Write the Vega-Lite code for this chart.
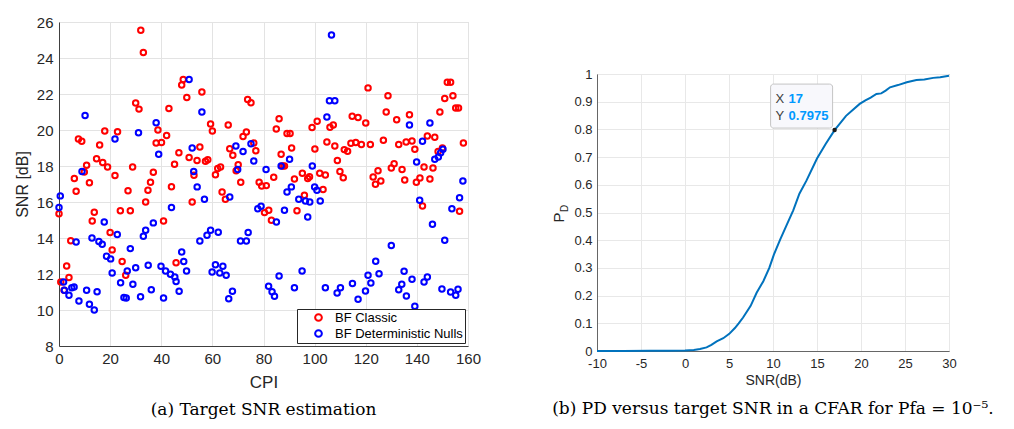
{
  "$schema": "https://vega.github.io/schema/vega-lite/v6.json",
  "background": "white",
  "padding": {"left": 13, "top": 14, "right": 5, "bottom": 5},
  "config": {
    "font": "Liberation Sans",
    "view": {"stroke": null},
    "concat": {"spacing": 69}
  },
  "resolve": {"scale": {"color": "independent"}, "legend": {"color": "independent"}},
  "datasets": {
    "scatter": [
      {"cpi": 0, "snr": 15.35, "method": "BF Classic"},
      {"cpi": 0.7, "snr": 11.56, "method": "BF Classic"},
      {"cpi": 2, "snr": 11.1, "method": "BF Classic"},
      {"cpi": 3, "snr": 12.45, "method": "BF Classic"},
      {"cpi": 3.9, "snr": 11.8, "method": "BF Classic"},
      {"cpi": 4.6, "snr": 13.85, "method": "BF Classic"},
      {"cpi": 6, "snr": 17.3, "method": "BF Classic"},
      {"cpi": 6.7, "snr": 16.6, "method": "BF Classic"},
      {"cpi": 7.6, "snr": 19.5, "method": "BF Classic"},
      {"cpi": 8.9, "snr": 19.37, "method": "BF Classic"},
      {"cpi": 9.9, "snr": 17.67, "method": "BF Classic"},
      {"cpi": 10.8, "snr": 18.04, "method": "BF Classic"},
      {"cpi": 11.9, "snr": 17.07, "method": "BF Classic"},
      {"cpi": 13, "snr": 14.95, "method": "BF Classic"},
      {"cpi": 13.8, "snr": 15.43, "method": "BF Classic"},
      {"cpi": 14.7, "snr": 18.4, "method": "BF Classic"},
      {"cpi": 15.9, "snr": 19.17, "method": "BF Classic"},
      {"cpi": 17.1, "snr": 18.2, "method": "BF Classic"},
      {"cpi": 17.9, "snr": 19.95, "method": "BF Classic"},
      {"cpi": 19, "snr": 17.95, "method": "BF Classic"},
      {"cpi": 20, "snr": 14.3, "method": "BF Classic"},
      {"cpi": 20.8, "snr": 13.34, "method": "BF Classic"},
      {"cpi": 21.9, "snr": 17.47, "method": "BF Classic"},
      {"cpi": 22.9, "snr": 19.9, "method": "BF Classic"},
      {"cpi": 24, "snr": 15.52, "method": "BF Classic"},
      {"cpi": 24.7, "snr": 12.7, "method": "BF Classic"},
      {"cpi": 26.1, "snr": 11.93, "method": "BF Classic"},
      {"cpi": 27, "snr": 16.63, "method": "BF Classic"},
      {"cpi": 27.9, "snr": 15.52, "method": "BF Classic"},
      {"cpi": 28.8, "snr": 17.95, "method": "BF Classic"},
      {"cpi": 30, "snr": 21.5, "method": "BF Classic"},
      {"cpi": 31.3, "snr": 21.16, "method": "BF Classic"},
      {"cpi": 32, "snr": 25.54, "method": "BF Classic"},
      {"cpi": 33, "snr": 24.3, "method": "BF Classic"},
      {"cpi": 33.9, "snr": 16.0, "method": "BF Classic"},
      {"cpi": 34.8, "snr": 16.65, "method": "BF Classic"},
      {"cpi": 35.8, "snr": 17.1, "method": "BF Classic"},
      {"cpi": 36.9, "snr": 17.65, "method": "BF Classic"},
      {"cpi": 38, "snr": 19.28, "method": "BF Classic"},
      {"cpi": 38.7, "snr": 20.0, "method": "BF Classic"},
      {"cpi": 40.1, "snr": 19.3, "method": "BF Classic"},
      {"cpi": 40.9, "snr": 14.95, "method": "BF Classic"},
      {"cpi": 42.1, "snr": 19.7, "method": "BF Classic"},
      {"cpi": 43, "snr": 21.2, "method": "BF Classic"},
      {"cpi": 44, "snr": 16.85, "method": "BF Classic"},
      {"cpi": 45.2, "snr": 18.1, "method": "BF Classic"},
      {"cpi": 45.8, "snr": 12.63, "method": "BF Classic"},
      {"cpi": 46.9, "snr": 18.74, "method": "BF Classic"},
      {"cpi": 48, "snr": 22.5, "method": "BF Classic"},
      {"cpi": 48.6, "snr": 22.8, "method": "BF Classic"},
      {"cpi": 50, "snr": 21.8, "method": "BF Classic"},
      {"cpi": 50.9, "snr": 18.47, "method": "BF Classic"},
      {"cpi": 52.1, "snr": 16.0, "method": "BF Classic"},
      {"cpi": 52.8, "snr": 17.48, "method": "BF Classic"},
      {"cpi": 54, "snr": 18.3, "method": "BF Classic"},
      {"cpi": 55.1, "snr": 19.06, "method": "BF Classic"},
      {"cpi": 55.9, "snr": 22.11, "method": "BF Classic"},
      {"cpi": 57.3, "snr": 18.26, "method": "BF Classic"},
      {"cpi": 58.2, "snr": 18.35, "method": "BF Classic"},
      {"cpi": 59.3, "snr": 20.33, "method": "BF Classic"},
      {"cpi": 60, "snr": 19.95, "method": "BF Classic"},
      {"cpi": 61.2, "snr": 17.52, "method": "BF Classic"},
      {"cpi": 62.1, "snr": 17.86, "method": "BF Classic"},
      {"cpi": 63.2, "snr": 17.95, "method": "BF Classic"},
      {"cpi": 63.8, "snr": 16.56, "method": "BF Classic"},
      {"cpi": 65.1, "snr": 16.15, "method": "BF Classic"},
      {"cpi": 66.2, "snr": 20.28, "method": "BF Classic"},
      {"cpi": 66.8, "snr": 18.96, "method": "BF Classic"},
      {"cpi": 68, "snr": 18.6, "method": "BF Classic"},
      {"cpi": 69.3, "snr": 17.74, "method": "BF Classic"},
      {"cpi": 70.1, "snr": 18.07, "method": "BF Classic"},
      {"cpi": 71.1, "snr": 17.1, "method": "BF Classic"},
      {"cpi": 72, "snr": 19.64, "method": "BF Classic"},
      {"cpi": 73.3, "snr": 19.89, "method": "BF Classic"},
      {"cpi": 73.8, "snr": 21.7, "method": "BF Classic"},
      {"cpi": 75.1, "snr": 21.52, "method": "BF Classic"},
      {"cpi": 76.2, "snr": 19.28, "method": "BF Classic"},
      {"cpi": 77, "snr": 18.85, "method": "BF Classic"},
      {"cpi": 78.3, "snr": 17.1, "method": "BF Classic"},
      {"cpi": 79.3, "snr": 16.89, "method": "BF Classic"},
      {"cpi": 81.1, "snr": 16.91, "method": "BF Classic"},
      {"cpi": 80.4, "snr": 15.41, "method": "BF Classic"},
      {"cpi": 82.05, "snr": 15.54, "method": "BF Classic"},
      {"cpi": 83.1, "snr": 14.98, "method": "BF Classic"},
      {"cpi": 84, "snr": 17.37, "method": "BF Classic"},
      {"cpi": 85, "snr": 20.06, "method": "BF Classic"},
      {"cpi": 86.1, "snr": 20.63, "method": "BF Classic"},
      {"cpi": 86.9, "snr": 18.65, "method": "BF Classic"},
      {"cpi": 87.4, "snr": 18.0, "method": "BF Classic"},
      {"cpi": 88.2, "snr": 18.0, "method": "BF Classic"},
      {"cpi": 89.2, "snr": 19.8, "method": "BF Classic"},
      {"cpi": 90.4, "snr": 19.8, "method": "BF Classic"},
      {"cpi": 91, "snr": 19.0, "method": "BF Classic"},
      {"cpi": 92.1, "snr": 17.28, "method": "BF Classic"},
      {"cpi": 93.1, "snr": 15.52, "method": "BF Classic"},
      {"cpi": 95.2, "snr": 17.6, "method": "BF Classic"},
      {"cpi": 96, "snr": 16.37, "method": "BF Classic"},
      {"cpi": 97.3, "snr": 17.3, "method": "BF Classic"},
      {"cpi": 98, "snr": 17.4, "method": "BF Classic"},
      {"cpi": 99, "snr": 20.14, "method": "BF Classic"},
      {"cpi": 100.1, "snr": 18.94, "method": "BF Classic"},
      {"cpi": 101, "snr": 20.48, "method": "BF Classic"},
      {"cpi": 102, "snr": 17.6, "method": "BF Classic"},
      {"cpi": 103.3, "snr": 16.69, "method": "BF Classic"},
      {"cpi": 104.2, "snr": 17.5, "method": "BF Classic"},
      {"cpi": 104.8, "snr": 19.33, "method": "BF Classic"},
      {"cpi": 106, "snr": 20.15, "method": "BF Classic"},
      {"cpi": 107.3, "snr": 20.28, "method": "BF Classic"},
      {"cpi": 107.9, "snr": 19.11, "method": "BF Classic"},
      {"cpi": 108.9, "snr": 18.31, "method": "BF Classic"},
      {"cpi": 109.9, "snr": 17.7, "method": "BF Classic"},
      {"cpi": 111.2, "snr": 17.35, "method": "BF Classic"},
      {"cpi": 111.6, "snr": 18.91, "method": "BF Classic"},
      {"cpi": 112.9, "snr": 18.82, "method": "BF Classic"},
      {"cpi": 114.2, "snr": 19.26, "method": "BF Classic"},
      {"cpi": 114.7, "snr": 20.76, "method": "BF Classic"},
      {"cpi": 116.1, "snr": 19.3, "method": "BF Classic"},
      {"cpi": 117, "snr": 20.7, "method": "BF Classic"},
      {"cpi": 118.3, "snr": 19.2, "method": "BF Classic"},
      {"cpi": 120, "snr": 20.39, "method": "BF Classic"},
      {"cpi": 120.9, "snr": 22.34, "method": "BF Classic"},
      {"cpi": 121.8, "snr": 19.19, "method": "BF Classic"},
      {"cpi": 122.9, "snr": 17.39, "method": "BF Classic"},
      {"cpi": 123.8, "snr": 16.98, "method": "BF Classic"},
      {"cpi": 124.8, "snr": 17.74, "method": "BF Classic"},
      {"cpi": 125.9, "snr": 17.17, "method": "BF Classic"},
      {"cpi": 126.9, "snr": 19.43, "method": "BF Classic"},
      {"cpi": 128, "snr": 21.0, "method": "BF Classic"},
      {"cpi": 128.7, "snr": 21.9, "method": "BF Classic"},
      {"cpi": 130, "snr": 17.89, "method": "BF Classic"},
      {"cpi": 131.1, "snr": 18.13, "method": "BF Classic"},
      {"cpi": 132.1, "snr": 20.57, "method": "BF Classic"},
      {"cpi": 132.9, "snr": 19.19, "method": "BF Classic"},
      {"cpi": 134.2, "snr": 17.8, "method": "BF Classic"},
      {"cpi": 135.25, "snr": 17.22, "method": "BF Classic"},
      {"cpi": 135.8, "snr": 19.33, "method": "BF Classic"},
      {"cpi": 137.1, "snr": 20.85, "method": "BF Classic"},
      {"cpi": 138.1, "snr": 19.39, "method": "BF Classic"},
      {"cpi": 139.2, "snr": 18.93, "method": "BF Classic"},
      {"cpi": 139.8, "snr": 17.1, "method": "BF Classic"},
      {"cpi": 141.2, "snr": 17.33, "method": "BF Classic"},
      {"cpi": 142.2, "snr": 15.78, "method": "BF Classic"},
      {"cpi": 142.8, "snr": 17.94, "method": "BF Classic"},
      {"cpi": 144.1, "snr": 19.67, "method": "BF Classic"},
      {"cpi": 145.1, "snr": 17.28, "method": "BF Classic"},
      {"cpi": 146.3, "snr": 17.89, "method": "BF Classic"},
      {"cpi": 147, "snr": 19.6, "method": "BF Classic"},
      {"cpi": 148.3, "snr": 18.8, "method": "BF Classic"},
      {"cpi": 149, "snr": 21.0, "method": "BF Classic"},
      {"cpi": 150, "snr": 19.0, "method": "BF Classic"},
      {"cpi": 150.9, "snr": 21.75, "method": "BF Classic"},
      {"cpi": 151.9, "snr": 22.65, "method": "BF Classic"},
      {"cpi": 153.2, "snr": 22.65, "method": "BF Classic"},
      {"cpi": 154.1, "snr": 21.9, "method": "BF Classic"},
      {"cpi": 155.2, "snr": 21.22, "method": "BF Classic"},
      {"cpi": 156.3, "snr": 21.22, "method": "BF Classic"},
      {"cpi": 156.7, "snr": 15.48, "method": "BF Classic"},
      {"cpi": 158.2, "snr": 19.28, "method": "BF Classic"},
      {"cpi": 0, "snr": 15.69, "method": "BF Deterministic Nulls"},
      {"cpi": 0.5, "snr": 16.34, "method": "BF Deterministic Nulls"},
      {"cpi": 1.8, "snr": 11.56, "method": "BF Deterministic Nulls"},
      {"cpi": 2.1, "snr": 11.1, "method": "BF Deterministic Nulls"},
      {"cpi": 3.9, "snr": 10.82, "method": "BF Deterministic Nulls"},
      {"cpi": 5, "snr": 11.24, "method": "BF Deterministic Nulls"},
      {"cpi": 5.9, "snr": 11.28, "method": "BF Deterministic Nulls"},
      {"cpi": 6.7, "snr": 13.78, "method": "BF Deterministic Nulls"},
      {"cpi": 7.8, "snr": 10.5, "method": "BF Deterministic Nulls"},
      {"cpi": 9, "snr": 17.7, "method": "BF Deterministic Nulls"},
      {"cpi": 10.2, "snr": 20.8, "method": "BF Deterministic Nulls"},
      {"cpi": 10.8, "snr": 11.1, "method": "BF Deterministic Nulls"},
      {"cpi": 11.9, "snr": 10.32, "method": "BF Deterministic Nulls"},
      {"cpi": 12.9, "snr": 14.0, "method": "BF Deterministic Nulls"},
      {"cpi": 13.8, "snr": 10.0, "method": "BF Deterministic Nulls"},
      {"cpi": 14.9, "snr": 11.02, "method": "BF Deterministic Nulls"},
      {"cpi": 15.6, "snr": 13.8, "method": "BF Deterministic Nulls"},
      {"cpi": 16.9, "snr": 13.65, "method": "BF Deterministic Nulls"},
      {"cpi": 17.7, "snr": 14.89, "method": "BF Deterministic Nulls"},
      {"cpi": 18.6, "snr": 12.98, "method": "BF Deterministic Nulls"},
      {"cpi": 20.2, "snr": 12.84, "method": "BF Deterministic Nulls"},
      {"cpi": 20.8, "snr": 12.06, "method": "BF Deterministic Nulls"},
      {"cpi": 21.9, "snr": 19.5, "method": "BF Deterministic Nulls"},
      {"cpi": 22.8, "snr": 14.19, "method": "BF Deterministic Nulls"},
      {"cpi": 24.1, "snr": 11.52, "method": "BF Deterministic Nulls"},
      {"cpi": 25.4, "snr": 10.69, "method": "BF Deterministic Nulls"},
      {"cpi": 26.3, "snr": 10.67, "method": "BF Deterministic Nulls"},
      {"cpi": 26.7, "snr": 12.17, "method": "BF Deterministic Nulls"},
      {"cpi": 27.9, "snr": 13.41, "method": "BF Deterministic Nulls"},
      {"cpi": 28.9, "snr": 11.43, "method": "BF Deterministic Nulls"},
      {"cpi": 30, "snr": 12.35, "method": "BF Deterministic Nulls"},
      {"cpi": 31.1, "snr": 19.85, "method": "BF Deterministic Nulls"},
      {"cpi": 31.9, "snr": 10.74, "method": "BF Deterministic Nulls"},
      {"cpi": 33, "snr": 14.1, "method": "BF Deterministic Nulls"},
      {"cpi": 33.9, "snr": 14.43, "method": "BF Deterministic Nulls"},
      {"cpi": 34.9, "snr": 12.48, "method": "BF Deterministic Nulls"},
      {"cpi": 36.1, "snr": 11.13, "method": "BF Deterministic Nulls"},
      {"cpi": 36.9, "snr": 14.84, "method": "BF Deterministic Nulls"},
      {"cpi": 38, "snr": 20.4, "method": "BF Deterministic Nulls"},
      {"cpi": 39, "snr": 18.65, "method": "BF Deterministic Nulls"},
      {"cpi": 39.9, "snr": 12.43, "method": "BF Deterministic Nulls"},
      {"cpi": 40.9, "snr": 10.67, "method": "BF Deterministic Nulls"},
      {"cpi": 41.7, "snr": 12.17, "method": "BF Deterministic Nulls"},
      {"cpi": 43.6, "snr": 11.98, "method": "BF Deterministic Nulls"},
      {"cpi": 44, "snr": 15.69, "method": "BF Deterministic Nulls"},
      {"cpi": 45.3, "snr": 11.83, "method": "BF Deterministic Nulls"},
      {"cpi": 45.8, "snr": 11.58, "method": "BF Deterministic Nulls"},
      {"cpi": 47, "snr": 11.04, "method": "BF Deterministic Nulls"},
      {"cpi": 48, "snr": 13.22, "method": "BF Deterministic Nulls"},
      {"cpi": 48.8, "snr": 12.69, "method": "BF Deterministic Nulls"},
      {"cpi": 49.9, "snr": 12.17, "method": "BF Deterministic Nulls"},
      {"cpi": 50.9, "snr": 22.8, "method": "BF Deterministic Nulls"},
      {"cpi": 52.1, "snr": 19.0, "method": "BF Deterministic Nulls"},
      {"cpi": 52.7, "snr": 17.7, "method": "BF Deterministic Nulls"},
      {"cpi": 54.05, "snr": 16.84, "method": "BF Deterministic Nulls"},
      {"cpi": 55.1, "snr": 13.83, "method": "BF Deterministic Nulls"},
      {"cpi": 55.9, "snr": 21.0, "method": "BF Deterministic Nulls"},
      {"cpi": 56.9, "snr": 16.15, "method": "BF Deterministic Nulls"},
      {"cpi": 57.9, "snr": 14.15, "method": "BF Deterministic Nulls"},
      {"cpi": 59.3, "snr": 14.43, "method": "BF Deterministic Nulls"},
      {"cpi": 59.9, "snr": 12.11, "method": "BF Deterministic Nulls"},
      {"cpi": 61.2, "snr": 12.52, "method": "BF Deterministic Nulls"},
      {"cpi": 62.3, "snr": 14.32, "method": "BF Deterministic Nulls"},
      {"cpi": 62.9, "snr": 12.06, "method": "BF Deterministic Nulls"},
      {"cpi": 64.1, "snr": 12.43, "method": "BF Deterministic Nulls"},
      {"cpi": 65.4, "snr": 11.93, "method": "BF Deterministic Nulls"},
      {"cpi": 66.4, "snr": 10.63, "method": "BF Deterministic Nulls"},
      {"cpi": 66.8, "snr": 16.28, "method": "BF Deterministic Nulls"},
      {"cpi": 67.85, "snr": 11.04, "method": "BF Deterministic Nulls"},
      {"cpi": 69.2, "snr": 19.11, "method": "BF Deterministic Nulls"},
      {"cpi": 69.9, "snr": 17.8, "method": "BF Deterministic Nulls"},
      {"cpi": 71, "snr": 13.83, "method": "BF Deterministic Nulls"},
      {"cpi": 72, "snr": 18.8, "method": "BF Deterministic Nulls"},
      {"cpi": 73.3, "snr": 13.83, "method": "BF Deterministic Nulls"},
      {"cpi": 74, "snr": 14.3, "method": "BF Deterministic Nulls"},
      {"cpi": 75.1, "snr": 19.24, "method": "BF Deterministic Nulls"},
      {"cpi": 76.2, "snr": 18.28, "method": "BF Deterministic Nulls"},
      {"cpi": 77.75, "snr": 15.63, "method": "BF Deterministic Nulls"},
      {"cpi": 79.05, "snr": 15.76, "method": "BF Deterministic Nulls"},
      {"cpi": 81, "snr": 17.8, "method": "BF Deterministic Nulls"},
      {"cpi": 82, "snr": 11.32, "method": "BF Deterministic Nulls"},
      {"cpi": 83.35, "snr": 11.02, "method": "BF Deterministic Nulls"},
      {"cpi": 84.3, "snr": 10.76, "method": "BF Deterministic Nulls"},
      {"cpi": 85.05, "snr": 14.89, "method": "BF Deterministic Nulls"},
      {"cpi": 86.1, "snr": 11.89, "method": "BF Deterministic Nulls"},
      {"cpi": 86.9, "snr": 18.0, "method": "BF Deterministic Nulls"},
      {"cpi": 88.2, "snr": 15.54, "method": "BF Deterministic Nulls"},
      {"cpi": 89.2, "snr": 16.56, "method": "BF Deterministic Nulls"},
      {"cpi": 90.2, "snr": 18.37, "method": "BF Deterministic Nulls"},
      {"cpi": 90.9, "snr": 16.84, "method": "BF Deterministic Nulls"},
      {"cpi": 92.1, "snr": 11.24, "method": "BF Deterministic Nulls"},
      {"cpi": 93.8, "snr": 16.15, "method": "BF Deterministic Nulls"},
      {"cpi": 95.1, "snr": 12.17, "method": "BF Deterministic Nulls"},
      {"cpi": 96.4, "snr": 16.06, "method": "BF Deterministic Nulls"},
      {"cpi": 97.3, "snr": 15.17, "method": "BF Deterministic Nulls"},
      {"cpi": 98.1, "snr": 16.0, "method": "BF Deterministic Nulls"},
      {"cpi": 99.1, "snr": 18.0, "method": "BF Deterministic Nulls"},
      {"cpi": 100, "snr": 16.84, "method": "BF Deterministic Nulls"},
      {"cpi": 100.9, "snr": 16.65, "method": "BF Deterministic Nulls"},
      {"cpi": 102.2, "snr": 16.06, "method": "BF Deterministic Nulls"},
      {"cpi": 104.2, "snr": 11.24, "method": "BF Deterministic Nulls"},
      {"cpi": 104.8, "snr": 20.72, "method": "BF Deterministic Nulls"},
      {"cpi": 105.8, "snr": 21.63, "method": "BF Deterministic Nulls"},
      {"cpi": 106.6, "snr": 25.28, "method": "BF Deterministic Nulls"},
      {"cpi": 107.9, "snr": 21.63, "method": "BF Deterministic Nulls"},
      {"cpi": 108.8, "snr": 10.95, "method": "BF Deterministic Nulls"},
      {"cpi": 110.1, "snr": 11.24, "method": "BF Deterministic Nulls"},
      {"cpi": 114.8, "snr": 11.47, "method": "BF Deterministic Nulls"},
      {"cpi": 117, "snr": 10.6, "method": "BF Deterministic Nulls"},
      {"cpi": 119.9, "snr": 11.06, "method": "BF Deterministic Nulls"},
      {"cpi": 120.9, "snr": 11.93, "method": "BF Deterministic Nulls"},
      {"cpi": 122, "snr": 11.5, "method": "BF Deterministic Nulls"},
      {"cpi": 123.9, "snr": 12.71, "method": "BF Deterministic Nulls"},
      {"cpi": 125.2, "snr": 12.02, "method": "BF Deterministic Nulls"},
      {"cpi": 130, "snr": 13.58, "method": "BF Deterministic Nulls"},
      {"cpi": 132.9, "snr": 11.13, "method": "BF Deterministic Nulls"},
      {"cpi": 134.1, "snr": 11.43, "method": "BF Deterministic Nulls"},
      {"cpi": 135, "snr": 12.15, "method": "BF Deterministic Nulls"},
      {"cpi": 135.9, "snr": 10.78, "method": "BF Deterministic Nulls"},
      {"cpi": 137.1, "snr": 20.28, "method": "BF Deterministic Nulls"},
      {"cpi": 138.1, "snr": 11.71, "method": "BF Deterministic Nulls"},
      {"cpi": 139.2, "snr": 10.21, "method": "BF Deterministic Nulls"},
      {"cpi": 139.9, "snr": 18.22, "method": "BF Deterministic Nulls"},
      {"cpi": 141.1, "snr": 16.1, "method": "BF Deterministic Nulls"},
      {"cpi": 142.2, "snr": 19.37, "method": "BF Deterministic Nulls"},
      {"cpi": 142.8, "snr": 11.56, "method": "BF Deterministic Nulls"},
      {"cpi": 144.1, "snr": 11.83, "method": "BF Deterministic Nulls"},
      {"cpi": 145.1, "snr": 20.39, "method": "BF Deterministic Nulls"},
      {"cpi": 146.1, "snr": 14.76, "method": "BF Deterministic Nulls"},
      {"cpi": 147, "snr": 18.37, "method": "BF Deterministic Nulls"},
      {"cpi": 148.4, "snr": 18.5, "method": "BF Deterministic Nulls"},
      {"cpi": 149.3, "snr": 18.74, "method": "BF Deterministic Nulls"},
      {"cpi": 149.8, "snr": 11.17, "method": "BF Deterministic Nulls"},
      {"cpi": 150.2, "snr": 18.93, "method": "BF Deterministic Nulls"},
      {"cpi": 150.9, "snr": 13.87, "method": "BF Deterministic Nulls"},
      {"cpi": 153.2, "snr": 11.0, "method": "BF Deterministic Nulls"},
      {"cpi": 153.7, "snr": 15.63, "method": "BF Deterministic Nulls"},
      {"cpi": 155.2, "snr": 10.82, "method": "BF Deterministic Nulls"},
      {"cpi": 156.1, "snr": 11.15, "method": "BF Deterministic Nulls"},
      {"cpi": 156.7, "snr": 16.24, "method": "BF Deterministic Nulls"},
      {"cpi": 158, "snr": 17.17, "method": "BF Deterministic Nulls"}
    ],
    "curve": [
      {"snr": -10, "pd": 0}, {"snr": -7, "pd": 0}, {"snr": -4, "pd": 0.0005},
      {"snr": -2, "pd": 0.001}, {"snr": 0, "pd": 0.002}, {"snr": 1, "pd": 0.004},
      {"snr": 1.7, "pd": 0.007}, {"snr": 2.45, "pd": 0.013}, {"snr": 3, "pd": 0.022},
      {"snr": 3.6, "pd": 0.035}, {"snr": 4.35, "pd": 0.046}, {"snr": 5.03, "pd": 0.062},
      {"snr": 5.67, "pd": 0.083}, {"snr": 6.1, "pd": 0.1}, {"snr": 6.6, "pd": 0.121},
      {"snr": 7.46, "pd": 0.163}, {"snr": 8.14, "pd": 0.21}, {"snr": 8.9, "pd": 0.252},
      {"snr": 9.58, "pd": 0.3}, {"snr": 10.1, "pd": 0.348}, {"snr": 10.8, "pd": 0.401},
      {"snr": 11.56, "pd": 0.455}, {"snr": 12.3, "pd": 0.508}, {"snr": 13, "pd": 0.568},
      {"snr": 13.8, "pd": 0.615}, {"snr": 15, "pd": 0.695}, {"snr": 16, "pd": 0.748},
      {"snr": 17, "pd": 0.7975}, {"snr": 18.3, "pd": 0.849}, {"snr": 19.85, "pd": 0.892},
      {"snr": 20.5, "pd": 0.905}, {"snr": 21.1, "pd": 0.915}, {"snr": 21.75, "pd": 0.928},
      {"snr": 22.3, "pd": 0.93}, {"snr": 22.8, "pd": 0.94}, {"snr": 23.3, "pd": 0.952},
      {"snr": 24.2, "pd": 0.96}, {"snr": 25.2, "pd": 0.97}, {"snr": 26.3, "pd": 0.978},
      {"snr": 27.2, "pd": 0.98}, {"snr": 28.2, "pd": 0.986}, {"snr": 29, "pd": 0.988},
      {"snr": 30, "pd": 0.994}
    ],
    "tip": [{"snr": 17, "pd": 0.7975}],
    "sub": [{"label": "D"}]
  },
  "hconcat": [
    {
      "width": 409,
      "height": 324,
      "view": {"stroke": "#d9d9d9"},
      "title": {"text": "(a) Target SNR estimation", "orient": "bottom", "frame": "group", "anchor": "middle", "font": "DejaVu Serif", "fontSize": 17, "fontWeight": "normal", "color": "black", "offset": 12},
      "data": {"name": "scatter"},
      "mark": {"type": "point", "filled": false, "size": 30, "strokeWidth": 2, "opacity": 1},
      "encoding": {
        "x": {
          "field": "cpi", "type": "quantitative",
          "scale": {"domain": [0, 160], "nice": false, "zero": false},
          "axis": {"title": "CPI", "values": [0, 20, 40, 60, 80, 100, 120, 140, 160], "ticks": false, "labelFontSize": 15, "labelColor": "#262626", "labelPadding": 5, "titleFontSize": 17, "titleFontWeight": "normal", "titleColor": "#262626", "titlePadding": 8, "domainColor": "#404040", "gridColor": "#e3e3e3", "labelFlush": false}
        },
        "y": {
          "field": "snr", "type": "quantitative",
          "scale": {"domain": [8, 26], "nice": false, "zero": false},
          "axis": {"title": "SNR [dB]", "values": [8, 10, 12, 14, 16, 18, 20, 22, 24, 26], "ticks": false, "labelFontSize": 15, "labelColor": "#262626", "labelPadding": 6, "titleFontSize": 16, "titleFontWeight": "normal", "titleColor": "#262626", "titlePadding": 6, "domainColor": "#404040", "gridColor": "#e3e3e3", "labelFlush": false}
        },
        "color": {
          "field": "method", "type": "nominal",
          "scale": {"domain": ["BF Classic", "BF Deterministic Nulls"], "range": ["#ff0000", "#0000ff"]},
          "legend": {"title": null, "orient": "bottom-right", "offset": 3, "fillColor": "white", "strokeColor": "#262626", "padding": 2, "symbolOffset": 13, "labelOffset": 10, "symbolSize": 45, "symbolStrokeWidth": 2, "labelFontSize": 13, "labelColor": "black", "rowPadding": 1, "symbolType": "circle"}
        }
      }
    },
    {
      "spacing": 0,
      "vconcat": [
        {
          "width": 352,
          "height": 45,
          "view": {"stroke": null},
          "data": {"values": []},
          "mark": "point"
        },
        {
          "width": 352,
          "height": 277,
          "view": {"stroke": "#666666"},
          "title": {"text": "(b) PD versus target SNR in a CFAR for Pfa = 10⁻⁵.", "orient": "bottom", "frame": "group", "anchor": "middle", "font": "DejaVu Serif", "fontSize": 17, "fontWeight": "normal", "color": "black", "offset": 14},
          "layer": [
            {
              "encoding": {
                "x": {
                  "field": "snr", "type": "quantitative",
                  "scale": {"domain": [-10, 30], "nice": false, "zero": false},
                  "axis": {"title": "SNR(dB)", "values": [-10, -5, 0, 5, 10, 15, 20, 25, 30], "labelExpr": "replace(datum.label, '−', '-')", "ticks": false, "labelFontSize": 13, "labelColor": "#262626", "labelPadding": 6, "titleFontSize": 14, "titleFontWeight": "normal", "titleColor": "#262626", "titlePadding": 3, "domainColor": "#666666", "gridColor": "#e8e8e8", "labelFlush": false}
                },
                "y": {
                  "field": "pd", "type": "quantitative",
                  "scale": {"domain": [0, 1], "nice": false, "zero": false},
                  "axis": {"title": "P", "titleY": 143, "values": [0, 0.1, 0.2, 0.3, 0.4, 0.5, 0.6, 0.7, 0.8, 0.9, 1], "format": "~g", "ticks": false, "labelFontSize": 13, "labelColor": "#262626", "labelPadding": 5, "titleFontSize": 15, "titleFontWeight": "normal", "titleColor": "#262626", "titlePadding": 7, "domainColor": "#666666", "gridColor": "#e8e8e8", "labelFlush": false}
                }
              },
              "layer": [
                {
                  "data": {"name": "curve"},
                  "mark": {"type": "line", "color": "#0072BD", "strokeWidth": 2}
                },
                {
                  "data": {"name": "tip"},
                  "mark": {"type": "rect", "fill": "#f8f8fc", "stroke": "#c4c4c4", "strokeWidth": 1, "cornerRadius": 3, "xOffset": -64, "x2Offset": -2, "yOffset": -46, "y2Offset": -2},
                  "encoding": {"x2": {"field": "snr"}, "y2": {"field": "pd"}}
                },
                {
                  "data": {"name": "tip"},
                  "mark": {"type": "point", "filled": true, "color": "#1a1a1a", "size": 20, "opacity": 1}
                },
                {
                  "data": {"name": "tip"},
                  "mark": {"type": "text", "text": "X", "align": "left", "baseline": "middle", "dx": -59, "dy": -31, "fontSize": 13, "color": "#404040"}
                },
                {
                  "data": {"name": "tip"},
                  "mark": {"type": "text", "align": "left", "baseline": "middle", "dx": -46, "dy": -31, "fontSize": 13, "fontWeight": "bold", "color": "#0099ff"},
                  "encoding": {"text": {"field": "snr", "type": "quantitative", "format": "~g"}}
                },
                {
                  "data": {"name": "tip"},
                  "mark": {"type": "text", "text": "Y", "align": "left", "baseline": "middle", "dx": -59, "dy": -14, "fontSize": 13, "color": "#404040"}
                },
                {
                  "data": {"name": "tip"},
                  "mark": {"type": "text", "align": "left", "baseline": "middle", "dx": -46, "dy": -14, "fontSize": 13, "fontWeight": "bold", "color": "#0099ff"},
                  "encoding": {"text": {"field": "pd", "type": "quantitative", "format": ".4f"}}
                }
              ]
            },
            {
              "data": {"name": "sub"},
              "mark": {"type": "text", "angle": 270, "fontSize": 10, "color": "#262626", "align": "center", "baseline": "middle", "xOffset": -32, "yOffset": -4},
              "encoding": {
                "x": {
                  "datum": -10, "type": "quantitative",
                  "scale": {"domain": [-10, 30], "nice": false, "zero": false},
                  "axis": {"title": "SNR(dB)", "values": [-10, -5, 0, 5, 10, 15, 20, 25, 30], "labelExpr": "replace(datum.label, '−', '-')", "ticks": false, "labelFontSize": 13, "labelColor": "#262626", "labelPadding": 6, "titleFontSize": 14, "titleFontWeight": "normal", "titleColor": "#262626", "titlePadding": 3, "domainColor": "#666666", "gridColor": "#e8e8e8", "labelFlush": false}
                },
                "y": {
                  "datum": 0.5, "type": "quantitative",
                  "scale": {"domain": [0, 1], "nice": false, "zero": false},
                  "axis": {"title": "P", "titleY": 143, "values": [0, 0.1, 0.2, 0.3, 0.4, 0.5, 0.6, 0.7, 0.8, 0.9, 1], "format": "~g", "ticks": false, "labelFontSize": 13, "labelColor": "#262626", "labelPadding": 5, "titleFontSize": 15, "titleFontWeight": "normal", "titleColor": "#262626", "titlePadding": 7, "domainColor": "#666666", "gridColor": "#e8e8e8", "labelFlush": false}
                },
                "text": {"field": "label", "type": "nominal"}
              }
            }
          ]
        }
      ]
    }
  ]
}
